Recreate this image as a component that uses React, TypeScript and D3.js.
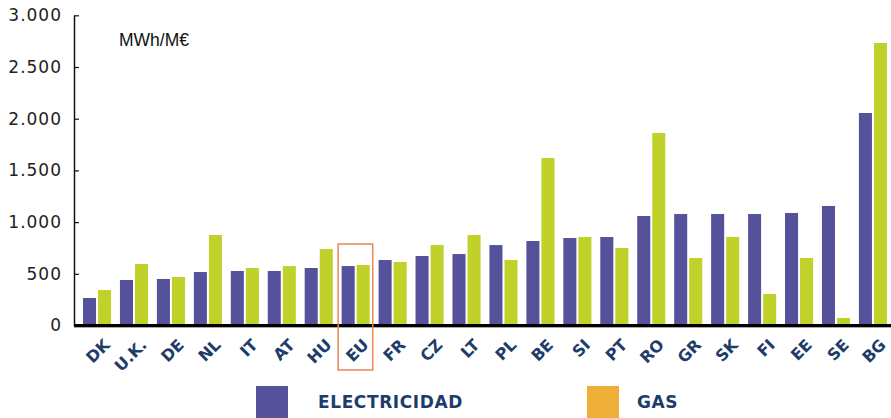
import React from "react";
import * as d3 from "d3";

const W = 891;
const H = 418;

// consumo por unidad de PIB, MWh/M€
const countries = ["DK", "U.K.", "DE", "NL", "IT", "AT", "HU", "EU", "FR", "CZ", "LT", "PL", "BE", "SI", "PT", "RO", "GR", "SK", "FI", "EE", "SE", "BG"];
const electricidad = [266, 440, 450, 517, 527, 527, 556, 575, 633, 672, 691, 778, 817, 846, 856, 1059, 1078, 1078, 1078, 1088, 1156, 2055];
const gas = [343, 595, 469, 875, 556, 575, 740, 585, 614, 778, 875, 633, 1620, 856, 750, 1862, 653, 856, 305, 653, 73, 2732];
const yTicks = [0, 500, 1000, 1500, 2000, 2500, 3000];
const seriesNames = ["ELECTRICIDAD", "GAS"];

const ELEC = "#55519a";
const GAS_BAR = "#c0d12a";
const GAS_LEGEND = "#eeae37";
const NAVY = "#1e3c69";

const App = () => {
  const axisRef = React.useRef<SVGGElement>(null);

  const x = d3.scaleBand().domain(countries).range([83, 887]).paddingInner(0.24).paddingOuter(0);
  const xs = d3.scaleBand().domain(seriesNames).range([0, x.bandwidth()]).paddingInner(0.133);
  const y = d3.scaleLinear().domain([0, 3000]).range([325.5, 15.3]);
  const fmt = (v: number) => d3.format(",")(v).replace(/,/g, ".");

  React.useEffect(() => {
    const g = d3.select(axisRef.current);
    g.selectAll("*").remove();
    g.call(
      d3.axisLeft(y).tickValues(yTicks).tickSizeInner(-5).tickSizeOuter(0).tickPadding(12).tickFormat((d: any) => fmt(d))
    );
    g.select(".domain").attr("stroke", "#111").attr("stroke-width", 1.5);
    g.selectAll(".tick line").attr("stroke", "#111").attr("stroke-width", 1.2);
    g.selectAll(".tick text")
      .attr("fill", "#222")
      .attr("font-family", "DejaVu Sans")
      .attr("font-size", 17)
      .attr("letter-spacing", 1);
  }, []);

  const eu = countries.indexOf("EU");
  const euX = x("EU") as number;
  const euTop = y(Math.max(electricidad[eu], gas[eu])) - 21;

  return (
    <svg width={W} height={H} style={{ position: "absolute", left: 0, top: 0, background: "#fff" }}>
      <g ref={axisRef} transform="translate(74,0)" />
      <text x={119} y={46} fontFamily="Liberation Sans" fontSize={17.5} fill="#111">MWh/M€</text>

      {countries.map((c, i) => (
        <g key={c} transform={`translate(${x(c)},0)`}>
          <rect x={xs("ELECTRICIDAD")} y={y(electricidad[i])} width={xs.bandwidth()} height={y(0) - y(electricidad[i])} fill={ELEC} />
          <rect x={xs("GAS")} y={y(gas[i])} width={xs.bandwidth()} height={y(0) - y(gas[i])} fill={GAS_BAR} />
        </g>
      ))}

      <line x1={74} x2={W} y1={y(0)} y2={y(0)} stroke="#000" strokeWidth={3} />
      <line x1={74} x2={W} y1={y(0) + 2} y2={y(0) + 2} stroke="#aaa" strokeWidth={1} />

      {countries.map((c) => (
        <text
          key={c}
          transform={`translate(${(x(c) as number) + x.bandwidth() / 2 + 6},338) rotate(-45)`}
          textAnchor="end"
          dy="0.7em"
          fontFamily="DejaVu Sans"
          fontWeight="bold"
          fontSize={16}
          fill={NAVY}
        >
          {c}
        </text>
      ))}

      <rect
        x={euX - 3.5}
        y={euTop}
        width={x.bandwidth() + 6.5}
        height={370 - euTop}
        fill="none"
        stroke="#ea8750"
        strokeWidth={1.5}
      />

      <rect x={256} y={386} width={32} height={32} fill={ELEC} />
      <text x={318} y={408} fontFamily="DejaVu Sans" fontWeight="bold" fontSize={17} letterSpacing={0.6} fill={NAVY}>ELECTRICIDAD</text>
      <rect x={587} y={386} width={32} height={32} fill={GAS_LEGEND} />
      <text x={637} y={408} fontFamily="DejaVu Sans" fontWeight="bold" fontSize={17} letterSpacing={0.6} fill={NAVY}>GAS</text>
    </svg>
  );
};

export default App;
